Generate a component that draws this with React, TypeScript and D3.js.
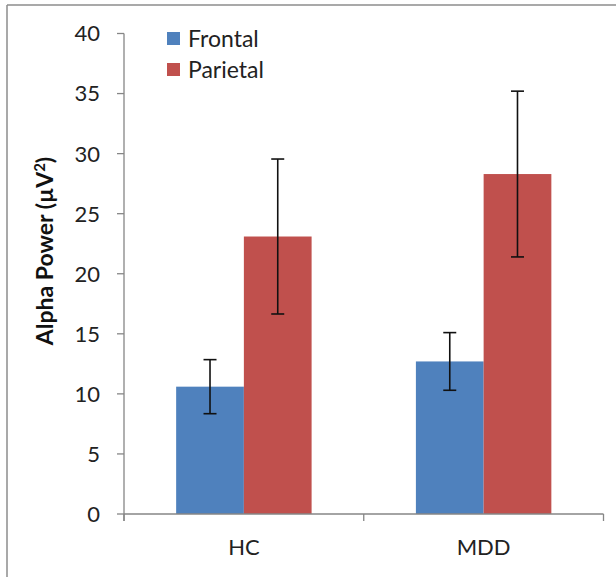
import React from "react";
import * as d3 from "d3";

const groups = ["HC", "MDD"];
const regions = ["Frontal", "Parietal"];
const frontalMean = [10.6, 12.7];
const frontalErr = [2.25, 2.4];
const parietalMean = [23.1, 28.3];
const parietalErr = [6.45, 6.9];
const yTicks = [0, 5, 10, 15, 20, 25, 30, 35, 40];
const colors = ["#4F81BD", "#C0504D"];

const W = 616;
const H = 577;
const FONT = "Lato, 'Open Sans', sans-serif";

export default function App() {
  const y = d3.scaleLinear().domain([0, 40]).range([514, 33.5]);
  const x0 = d3.scaleBand<string>().domain(groups).range([124, 603.5]).padding(0);
  const x1 = d3
    .scaleBand<string>()
    .domain(regions)
    .range([0, x0.bandwidth()])
    .paddingInner(0)
    .paddingOuter(0.77);

  const means = [frontalMean, parietalMean];
  const errs = [frontalErr, parietalErr];

  const bars = groups.flatMap((g, gi) =>
    regions.map((r, ri) => ({
      g,
      r,
      ri,
      v: means[ri][gi],
      e: errs[ri][gi],
      x: (x0(g) as number) + (x1(r) as number),
    }))
  );

  const axisColor = "#868686";
  const [x0min, x0max] = x0.range();

  return (
    <div style={{ position: "fixed", left: 0, top: 0 }}>
      <svg width={W} height={H} style={{ display: "block", background: "#fff" }}>
        {/* chart frame */}
        <line x1={7} y1={5} x2={W} y2={5} stroke="#8c8c8c" strokeWidth={1.5} />
        <line x1={7} y1={5} x2={7} y2={H} stroke="#8c8c8c" strokeWidth={1.5} />

        {/* bars */}
        {bars.map((b) => (
          <rect
            key={b.g + b.r}
            x={b.x}
            y={y(b.v)}
            width={x1.bandwidth()}
            height={y(0) - y(b.v)}
            fill={colors[b.ri]}
          />
        ))}

        {/* error bars */}
        {bars.map((b) => {
          const cx = b.x + x1.bandwidth() / 2;
          const top = y(b.v + b.e);
          const bot = y(b.v - b.e);
          return (
            <g key={"e" + b.g + b.r} stroke="#111" strokeWidth={1.6}>
              <line x1={cx} x2={cx} y1={top} y2={bot} />
              <line x1={cx - 6.5} x2={cx + 6.5} y1={top} y2={top} />
              <line x1={cx - 6.5} x2={cx + 6.5} y1={bot} y2={bot} />
            </g>
          );
        })}

        {/* y axis */}
        <line x1={x0min} x2={x0min} y1={y(40)} y2={y(0) + 7} stroke={axisColor} strokeWidth={1.3} />
        {yTicks.map((t) => (
          <g key={"t" + t}>
            <line x1={x0min - 7} x2={x0min} y1={y(t)} y2={y(t)} stroke={axisColor} strokeWidth={1.3} />
            <text
              x={100}
              y={y(t)}
              dy="0.36em"
              textAnchor="end"
              fontFamily={FONT}
              fontSize={22}
              fill="#222"
            >
              {t}
            </text>
          </g>
        ))}

        {/* x axis */}
        <line x1={x0min} x2={x0max} y1={y(0)} y2={y(0)} stroke={axisColor} strokeWidth={1.3} />
        {[x0min, ...groups.slice(1).map((g) => x0(g) as number), x0max].map((tx, i) => (
          <line key={"xt" + i} x1={tx} x2={tx} y1={y(0)} y2={y(0) + 7} stroke={axisColor} strokeWidth={1.3} />
        ))}
        {groups.map((g) => (
          <text
            key={"xl" + g}
            x={(x0(g) as number) + x0.bandwidth() / 2}
            y={555}
            textAnchor="middle"
            fontFamily={FONT}
            fontSize={22}
            fill="#222"
          >
            {g}
          </text>
        ))}

        {/* y axis title */}
        <text
          transform={`translate(53, 251) rotate(-90)`}
          textAnchor="middle"
          fontFamily={FONT}
          fontWeight="bold"
          fontSize={23}
          fill="#111"
        >
          Alpha Power (µV
          <tspan dy={-8} fontSize={15}>2</tspan>
          <tspan dy={8}>)</tspan>
        </text>

        {/* legend */}
        {regions.map((r, i) => (
          <g key={"lg" + r} transform={`translate(167, ${32 + i * 31})`}>
            <rect x={0} y={0} width={13} height={13} fill={colors[i]} />
            <text x={21} y={14.5} fontFamily={FONT} fontSize={23} fill="#222">
              {r}
            </text>
          </g>
        ))}
      </svg>
    </div>
  );
}
